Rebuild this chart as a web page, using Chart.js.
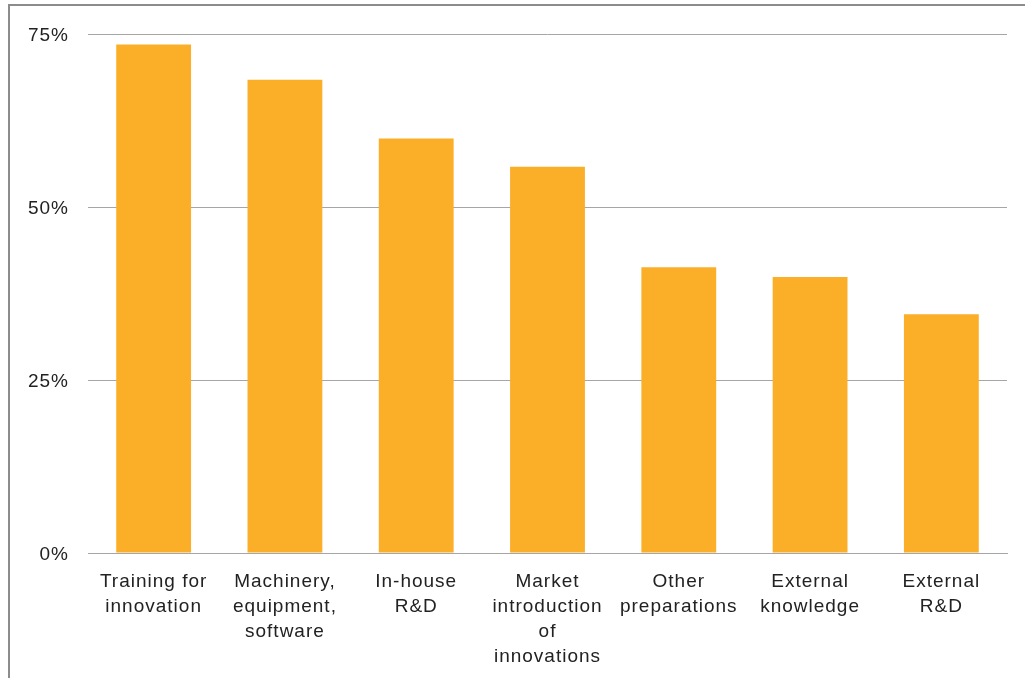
<!DOCTYPE html>
<html>
<head>
<meta charset="utf-8">
<title>Innovation activities</title>
<script src="https://cdn.jsdelivr.net/npm/chart.js@4/dist/chart.umd.min.js"></script>
<style>
  html, body { margin: 0; padding: 0; background: #fff; overflow: hidden; }
  #wrap { position: absolute; left: 0; top: 0; width: 1025px; height: 678px; }
  #frame {
    position: absolute; left: 8px; top: 4px; width: 1040px; height: 700px;
    border: 2px solid #8c8c8c; box-sizing: border-box; pointer-events: none;
  }
</style>
</head>
<body>
<div id="wrap">
  <canvas id="chart" width="1025" height="678"></canvas>
  <div id="frame"></div>
</div>
<script>
// Share of firms by type of innovation activity (%)
const categories = [
  ["Training for", "innovation"],
  ["Machinery,", "equipment,", "software"],
  ["In-house", "R&D"],
  ["Market", "introduction", "of", "innovations"],
  ["Other", "preparations"],
  ["External", "knowledge"],
  ["External", "R&D"]
];
const shares = [73.5, 68.4, 59.9, 55.8, 41.3, 39.9, 34.5];
const yTicks = [0, 25, 50, 75];

const fontFamily = "'Liberation Sans', Arial, sans-serif";

// Slightly looser tracking for all axis text
const tracking = {
  id: 'tracking',
  beforeDraw(chart) { chart.ctx.letterSpacing = '1px'; }
};

new Chart(document.getElementById('chart'), {
  type: 'bar',
  data: {
    labels: categories,
    datasets: [{
      data: shares,
      backgroundColor: '#FBAE28',
      borderWidth: 0,
      categoryPercentage: 1.0,
      barPercentage: 0.57
    }]
  },
  plugins: [tracking],
  options: {
    responsive: false,
    animation: false,
    layout: { padding: { top: 34, right: 18, left: 0, bottom: 0 } },
    plugins: { legend: { display: false }, tooltip: { enabled: false } },
    scales: {
      x: {
        grid: { display: false, drawTicks: false },
        border: { display: true, color: '#a6a6a6', width: 1 },
        ticks: {
          color: '#222',
          padding: 16,
          maxRotation: 0,
          autoSkip: false,
          font: { family: fontFamily, size: 19, lineHeight: 1.32 }
        },
        afterFit: (axis) => { axis.height = 125; }
      },
      y: {
        min: 0,
        max: 75,
        afterBuildTicks: (axis) => { axis.ticks = yTicks.map(v => ({ value: v })); },
        grid: { color: '#a6a6a6', lineWidth: 1, drawTicks: false },
        border: { display: false },
        ticks: {
          color: '#222',
          padding: 19,
          labelOffset: 2,
          font: { family: fontFamily, size: 19 },
          callback: (v) => v + '%'
        },
        afterFit: (axis) => { axis.width = 88; }
      }
    }
  }
});
</script>
</body>
</html>
